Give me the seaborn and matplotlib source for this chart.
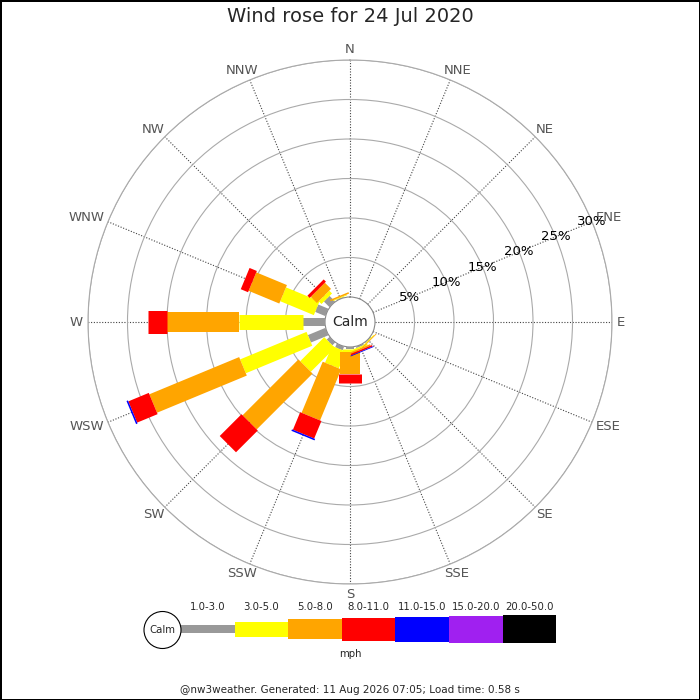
import numpy as np
import matplotlib
matplotlib.use("Agg")
import matplotlib.pyplot as plt
from matplotlib.patches import Circle
from matplotlib.transforms import offset_copy
import seaborn as sns

# Data arah angin dan persentase per kelas kecepatan (mph)
directions = ["N", "NNE", "NE", "ENE", "E", "ESE", "SE", "SSE",
              "S", "SSW", "SW", "WSW", "W", "WNW", "NW", "NNW"]
speed_ranges = ["1.0-3.0", "3.0-5.0", "5.0-8.0", "8.0-11.0",
                "11.0-15.0", "15.0-20.0", "20.0-50.0"]
#              N   NNE  NE  ENE  E   ESE  SE   SSE  S    SSW  SW   WSW   W    WNW  NW   NNW
pct_1_3   = [0,  0,   0,  0,   0,  0,   0.1, 0.2, 0.3, 0.5, 0.5, 2.4,  2.8, 1.4, 1.0, 0.1]
pct_3_5   = [0,  0,   0,  0,   0,  0,   0.1, 0.2, 0.3, 2.3, 4.3, 9.1,  8.1, 4.6, 0.5, 0.1]
pct_5_8   = [0,  0,   0,  0,   0,  0,   0.1, 0.2, 2.8, 7.0, 10.0, 12.3, 9.1, 4.2, 1.1, 0.2]
pct_8_11  = [0,  0,   0,  0,   0,  0,   0,   0.2, 1.2, 2.4, 3.9, 2.8,  2.4, 1.0, 0.4, 0]
pct_11_15 = [0,  0,   0,  0,   0,  0,   0,   0.1, 0,   0.2, 0,   0.2,  0,   0,   0,   0]
pct_15_20 = [0] * 16
pct_20_50 = [0] * 16
ring_pcts = [5, 10, 15, 20, 25, 30]

series = [pct_1_3, pct_3_5, pct_5_8, pct_8_11, pct_11_15, pct_15_20, pct_20_50]
colors = sns.color_palette(["#999999", "#ffff00", "#ffa500", "#ff0000",
                            "#0000ff", "#a020f0", "#000000"])
bar_px = [8, 15, 20, 23, 25, 27, 28]   # lebar batang dalam piksel

sns.set_style("white")
plt.rcParams["font.family"] = ["DejaVu Sans"]

fig = plt.figure(figsize=(7, 7), dpi=100)
fig.patch.set_edgecolor("black")
fig.patch.set_linewidth(2)

# Sumbu legenda (koordinat piksel)
lax = fig.add_axes([0, 0, 1, 1])
lax.set_xlim(0, 700)
lax.set_ylim(700, 0)
lax.axis("off")

# Grafik mawar angin
cx, cy, r_out, r_calm = 350, 322, 262, 25
ax = fig.add_axes([(cx - r_out) / 700, (700 - cy - r_out) / 700,
                   2 * r_out / 700, 2 * r_out / 700], projection="polar")
ax.set_theta_zero_location("N")
ax.set_theta_direction(-1)
px_per_pct = (r_out - r_calm) / ring_pcts[-1]
r0 = r_calm / px_per_pct
ax.set_rlim(0, ring_pcts[-1])
ax.set_rorigin(-r0)

angles = np.arange(16) * 22.5
theta = np.deg2rad(angles)
ax.set_thetagrids(angles, labels=[""] * len(angles))
ax.set_rgrids(ring_pcts, labels=[""] * len(ring_pcts))
ax.xaxis.grid(True, color="#444444", lw=0.8, ls=(0, (1, 1.5)))
ax.yaxis.grid(True, color="#aaaaaa", lw=0.8, ls="-")
ax.spines["polar"].set_color("#aaaaaa")
ax.spines["polar"].set_linewidth(0.8)
ax.spines["inner"].set_color("#888888")
ax.spines["inner"].set_linewidth(0.8)
ax.set_axisbelow(True)

# Label arah mata angin: tepi kotak teks pada jarak tetap dari pusat
renderer = fig.canvas.get_renderer()
r_lab = 267 / px_per_pct - r0
for th, lab in zip(theta, directions):
    t = ax.text(th, r_lab, lab, ha="center", va="center", fontsize=9.5,
                color="#555555")
    bb = t.get_window_extent(renderer)
    dx = np.sin(th) * bb.width / 2
    dy = np.cos(th) * bb.height / 2 * 0.8
    t.set_transform(offset_copy(ax.transData, fig=fig, x=dx, y=dy, units="dots"))

for i in range(len(directions)):
    start = 0.0
    for k, vals in enumerate(series):
        v = vals[i]
        if v <= 0:
            continue
        ax.plot([theta[i], theta[i]], [start, start + v], color=colors[k],
                lw=bar_px[k] * 0.72, solid_capstyle="butt", zorder=3 + k)
        start += v

for r in ring_pcts:
    ax.text(np.deg2rad(67.5), r, f"{r}%", ha="center", va="center",
            fontsize=9.5, color="black", zorder=12)
ax.text(0.5, 0.5, "Calm", transform=ax.transAxes, ha="center", va="center",
        fontsize=10)

# Legenda
lx, ly, seg = 181, 629, 53.6
lefts = [lx + k * seg for k in range(len(speed_ranges))]
bottoms = [ly - w / 2 for w in bar_px]
lax.bar(lefts, bar_px, bottom=bottoms, width=seg, align="edge",
        color=colors, linewidth=0)
for k, lab in enumerate(speed_ranges):
    lax.text(lefts[k] + seg / 2, 607, lab, ha="center", va="center", fontsize=7.3)
lax.add_patch(Circle((lx - 18.5, ly + 1), 18.5, fill=False, ec="black", lw=0.8))
lax.text(lx - 18.5, ly + 1, "Calm", ha="center", va="center", fontsize=7.3)
lax.text(350, 654, "mph", ha="center", va="center", fontsize=7.3)

fig.text(0.5, 1 - 17 / 700, "Wind rose for 24 Jul 2020", ha="center",
         va="center", fontsize=14)
fig.text(0.5, 1 - 690 / 700,
         "@nw3weather. Generated: 11 Aug 2026 07:05; Load time: 0.58 s",
         ha="center", va="center", fontsize=7.5)

fig.savefig("out.png", dpi=100)
